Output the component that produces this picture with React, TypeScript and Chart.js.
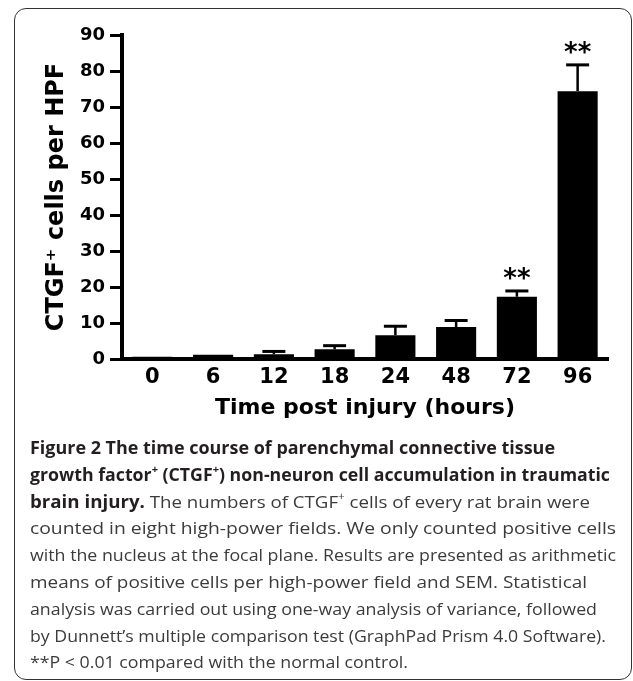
import React, { useEffect, useLayoutEffect, useRef } from 'react';
import { Chart, registerables } from 'chart.js';

Chart.register(...registerables);

// ---- data ----
const categories = ['0', '6', '12', '18', '24', '48', '72', '96'];
const meanCells = [0.6, 1.2, 1.3, 2.7, 6.6, 8.9, 17.3, 74.4];
const semCells = [0, 0, 0.8, 1.0, 2.5, 1.8, 1.6, 7.3];
const significance = ['', '', '', '', '', '', '**', '**'];
const yMin = 0;
const yMax = 90;
const yStep = 10;

const xTitle = 'Time post injury (hours)';
const yTitle = 'CTGF\u207A cells per HPF';

type Seg = { text: string; bold?: boolean; sup?: boolean };

const captionLines: Seg[][] = [
  [{ text: 'Figure 2 The time course of parenchymal connective tissue', bold: true }],
  [
    { text: 'growth factor', bold: true },
    { text: '+', bold: true, sup: true },
    { text: ' (CTGF', bold: true },
    { text: '+', bold: true, sup: true },
    { text: ') non-neuron cell accumulation in traumatic', bold: true },
  ],
  [
    { text: 'brain injury.', bold: true },
    { text: ' The numbers of CTGF' },
    { text: '+', sup: true },
    { text: ' cells of every rat brain were' },
  ],
  [{ text: 'counted in eight high-power fields. We only counted positive cells' }],
  [{ text: 'with the nucleus at the focal plane. Results are presented as arithmetic' }],
  [{ text: 'means of positive cells per high-power field and SEM. Statistical' }],
  [{ text: 'analysis was carried out using one-way analysis of variance, followed' }],
  [{ text: 'by Dunnett\u2019s multiple comparison test (GraphPad Prism 4.0 Software).' }],
  [{ text: '**P < 0.01 compared with the normal control.' }],
];

// layout of caption lines (target rendered widths in px)
const captionLineWidths = [525, 580, 560, 586, 586, 557, 567, 576, 378];

const semPlugin = {
  id: 'semBars',
  afterDatasetsDraw(chart: any) {
    const meta = chart.getDatasetMeta(0);
    const y = chart.scales.y;
    const ctx = chart.ctx;
    ctx.save();
    ctx.strokeStyle = '#000';
    ctx.fillStyle = '#000';
    meta.data.forEach((bar: any, i: number) => {
      const mean = meanCells[i];
      const sem = semCells[i];
      const yTop = y.getPixelForValue(mean);
      const yCap = y.getPixelForValue(mean + sem);
      if (sem > 0) {
        ctx.lineWidth = 2.5;
        ctx.beginPath();
        ctx.moveTo(bar.x, yTop);
        ctx.lineTo(bar.x, yCap);
        ctx.stroke();
        ctx.lineWidth = 3;
        ctx.beginPath();
        ctx.moveTo(bar.x - 11.5, yCap);
        ctx.lineTo(bar.x + 11.5, yCap);
        ctx.stroke();
      }
      if (significance[i]) {
        ctx.font = 'bold 26px "DejaVu Sans"';
        ctx.textAlign = 'center';
        ctx.textBaseline = 'alphabetic';
        ctx.fillText(significance[i], bar.x, yCap - 3.5);
      }
    });
    ctx.restore();
  },
};

function BarChart() {
  const ref = useRef<HTMLCanvasElement | null>(null);
  useEffect(() => {
    if (!ref.current) return;
    const chart = new Chart(ref.current, {
      type: 'bar',
      data: {
        labels: categories,
        datasets: [
          {
            data: meanCells,
            backgroundColor: '#000',
            borderWidth: 0,
            barPercentage: 0.66,
            categoryPercentage: 1,
          },
        ],
      },
      options: {
        animation: false,
        responsive: false,
        devicePixelRatio: 1,
        layout: { padding: { top: 35, right: 25, left: 0, bottom: 0 } },
        plugins: { legend: { display: false }, tooltip: { enabled: false }, title: { display: false } },
        scales: {
          x: {
            type: 'category',
            grid: { display: false, drawTicks: false, tickLength: 0 },
            border: { display: true, color: '#000', width: 4 },
            ticks: {
              color: '#000',
              font: { family: 'DejaVu Sans', weight: 'bold', size: 21 },
              padding: 6,
              maxRotation: 0,
            },
            title: {
              display: true,
              text: xTitle,
              color: '#000',
              font: { family: 'DejaVu Sans', weight: 'bold', size: 22 },
              padding: { top: 0, bottom: 19 },
            },
            afterFit: (scale: any) => {
              scale.height = 81;
            },
          },
          y: {
            min: yMin,
            max: yMax,
            grid: {
              display: true,
              drawOnChartArea: false,
              drawTicks: true,
              tickLength: 12,
              lineWidth: 3,
              color: '#000',
            },
            border: { display: true, color: '#000', width: 4 },
            ticks: {
              stepSize: yStep,
              color: '#000',
              font: { family: 'DejaVu Sans', weight: 'bold', size: 18 },
              padding: 5,
            },
            title: {
              display: true,
              text: yTitle,
              color: '#000',
              font: { family: 'DejaVu Sans', weight: 'bold', size: 24 },
              padding: { top: 42, bottom: 0 },
            },
            afterFit: (scale: any) => {
              scale.width = 122;
            },
          },
        },
      },
      plugins: [semPlugin],
    } as any);
    return () => chart.destroy();
  }, []);
  return (
    <canvas
      ref={ref}
      width={633}
      height={440}
      style={{ position: 'absolute', left: 0, top: 0, width: 633, height: 440 }}
    />
  );
}

function Caption() {
  const refs = useRef<(HTMLSpanElement | null)[]>([]);
  useLayoutEffect(() => {
    const fit = () => {
      refs.current.forEach((el, i) => {
        if (!el) return;
        el.style.transform = 'none';
        const w = el.getBoundingClientRect().width;
        if (w > 0) el.style.transform = `scaleX(${captionLineWidths[i] / w})`;
      });
    };
    fit();
    if ((document as any).fonts && (document as any).fonts.ready) {
      (document as any).fonts.ready.then(fit);
    }
  }, []);
  return (
    <div
      style={{
        position: 'absolute',
        left: 30,
        top: 435,
        fontFamily: '"Open Sans", sans-serif',
        fontSize: 17,
        color: '#3b3b3b',
      }}
    >
      {captionLines.map((line, i) => (
        <div key={i} style={{ height: 26.8, lineHeight: '26.8px', whiteSpace: 'nowrap' }}>
          <span
            ref={(el) => {
              refs.current[i] = el;
            }}
            style={{ display: 'inline-block', transformOrigin: '0 50%' }}
          >
            {line.map((s, j) => (
              <span
                key={j}
                style={{
                  fontWeight: s.bold ? 700 : 400,
                  color: s.bold ? '#231f20' : undefined,
                  fontSize: s.sup ? '0.62em' : undefined,
                  position: s.sup ? 'relative' : undefined,
                  top: s.sup ? '-0.75em' : undefined,
                }}
              >
                {s.text}
              </span>
            ))}
          </span>
        </div>
      ))}
    </div>
  );
}

export default function App() {
  return (
    <div
      style={{
        position: 'absolute',
        left: 0,
        top: 0,
        width: 633,
        height: 681,
        overflow: 'hidden',
        background: '#fff',
      }}
    >
      <div
        style={{
          position: 'absolute',
          left: 14,
          top: 8,
          width: 618,
          height: 672,
          boxSizing: 'border-box',
          border: '1.5px solid #333',
          borderRadius: 12,
        }}
      />
      <BarChart />
      <Caption />
    </div>
  );
}
